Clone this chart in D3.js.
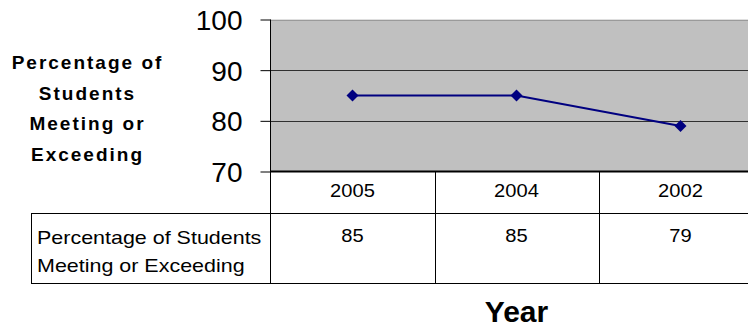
<!DOCTYPE html>
<html>
<head>
<meta charset="utf-8">
<script src="https://cdn.jsdelivr.net/npm/d3@7"></script>
<style>
  html, body { margin: 0; padding: 0; background: #fff; }
  svg { display: block; font-family: Arial, "Liberation Sans", sans-serif; }
</style>
</head>
<body>
<svg id="chart" width="748" height="330"></svg>
<script>
// ---- data ----
const categories = ["2005", "2004", "2002"];
const values = [85, 85, 79];
const seriesName = ["Percentage of Students", "Meeting or Exceeding"];
const yTicks = [70, 80, 90, 100];
const yTitle = ["Percentage of", "Students", "Meeting or", "Exceeding"];
const xTitle = "Year";

// ---- layout ----
const svg = d3.select("#chart");
const plotLeft = 270.5, plotRight = 762.5, plotTop = 19.5, plotBottom = 171.5;
const headerBottom = 213.5, tableBottom = 283.5, tableLeft = 31;

const x = d3.scaleBand().domain(categories).range([plotLeft, plotRight]).padding(0);
const y = d3.scaleLinear().domain([70, 100]).range([plotBottom, plotTop]);

// plot background
svg.append("rect")
  .attr("x", plotLeft).attr("y", plotTop)
  .attr("width", plotRight - plotLeft).attr("height", plotBottom - plotTop)
  .attr("fill", "#c0c0c0");

// gridlines
svg.append("g").selectAll("line")
  .data(yTicks.filter(d => d > 70))
  .join("line")
  .attr("x1", plotLeft).attr("x2", plotRight)
  .attr("y1", d => Math.round(y(d)) + 0.5).attr("y2", d => Math.round(y(d)) + 0.5)
  .attr("stroke", d => d === 100 ? "#9a9a9a" : "#303030")
  .attr("stroke-width", 1);

// y axis
const yAxis = d3.axisLeft(y).tickValues(yTicks).tickSize(10).tickPadding(18).tickFormat(d3.format("d"));
const gy = svg.append("g").attr("transform", `translate(${plotLeft},0)`).call(yAxis);
gy.select(".domain").remove();
gy.selectAll(".tick line").attr("stroke", "#000");
gy.selectAll(".tick text")
  .attr("font-size", 28).attr("font-family", "Arial, 'Liberation Sans', sans-serif")
  .attr("fill", "#000").attr("dy", "0.36em");
svg.append("line")
  .attr("x1", plotLeft).attr("x2", plotLeft)
  .attr("y1", plotTop).attr("y2", tableBottom)
  .attr("stroke", "#000").attr("stroke-width", 1);

// table lines
const tbl = svg.append("g").attr("stroke", "#000").attr("stroke-width", 1);
tbl.append("line").attr("x1", plotLeft).attr("x2", plotRight)
  .attr("y1", plotBottom).attr("y2", plotBottom).attr("stroke-width", 2);
tbl.append("line").attr("x1", tableLeft).attr("x2", plotRight)
  .attr("y1", headerBottom).attr("y2", headerBottom);
tbl.append("line").attr("x1", tableLeft).attr("x2", plotRight)
  .attr("y1", tableBottom).attr("y2", tableBottom);
tbl.append("line").attr("x1", tableLeft + 0.5).attr("x2", tableLeft + 0.5)
  .attr("y1", headerBottom).attr("y2", tableBottom);
tbl.selectAll("line.col")
  .data(categories.slice(1))
  .join("line").attr("class", "col")
  .attr("x1", d => Math.round(x(d)) + 0.5).attr("x2", d => Math.round(x(d)) + 0.5)
  .attr("y1", plotBottom).attr("y2", tableBottom);

// helper for horizontally stretched text
function stretchedText(g, txt, cx, by, size, sx, anchor, weight) {
  return g.append("text")
    .attr("transform", `translate(${cx},${by}) scale(${sx},1)`)
    .attr("text-anchor", anchor)
    .attr("font-size", size)
    .attr("font-weight", weight || "normal")
    .attr("fill", "#000")
    .text(txt);
}

// header labels
const labels = svg.append("g");
categories.forEach(c => {
  stretchedText(labels, c, x(c) + x.bandwidth() / 2, 197, 19, 1.06, "middle");
});
// values row
values.forEach((v, i) => {
  stretchedText(labels, v, x(categories[i]) + x.bandwidth() / 2, 242, 19, 1.06, "middle");
});
// row header
stretchedText(labels, seriesName[0], 37, 243.5, 19, 1.13, "start");
stretchedText(labels, seriesName[1], 37, 272, 19, 1.13, "start");

// line + markers
const line = d3.line()
  .x((d, i) => x(categories[i]) + x.bandwidth() / 2)
  .y(d => y(d));
svg.append("path").datum(values)
  .attr("d", line).attr("fill", "none")
  .attr("stroke", "#000080").attr("stroke-width", 2);
svg.append("g").selectAll("path")
  .data(values)
  .join("path")
  .attr("d", d3.symbol().type(d3.symbolSquare).size(72))
  .attr("transform", (d, i) => `translate(${x(categories[i]) + x.bandwidth() / 2},${y(d)}) rotate(45)`)
  .attr("fill", "#000080");

// y title
const yt = svg.append("g");
const yBase = [68.5, 99.5, 130, 160.5];
yTitle.forEach((t, i) => {
  yt.append("text")
    .attr("x", 87.5).attr("y", yBase[i])
    .attr("text-anchor", "middle")
    .attr("font-size", 19).attr("font-weight", "bold")
    .attr("letter-spacing", 2)
    .attr("fill", "#000")
    .text(t);
});

// x title
svg.append("text")
  .attr("x", (plotLeft + plotRight) / 2).attr("y", 322)
  .attr("text-anchor", "middle")
  .attr("font-size", 30).attr("font-weight", "bold")
  .attr("fill", "#000")
  .text(xTitle);
</script>
</body>
</html>
